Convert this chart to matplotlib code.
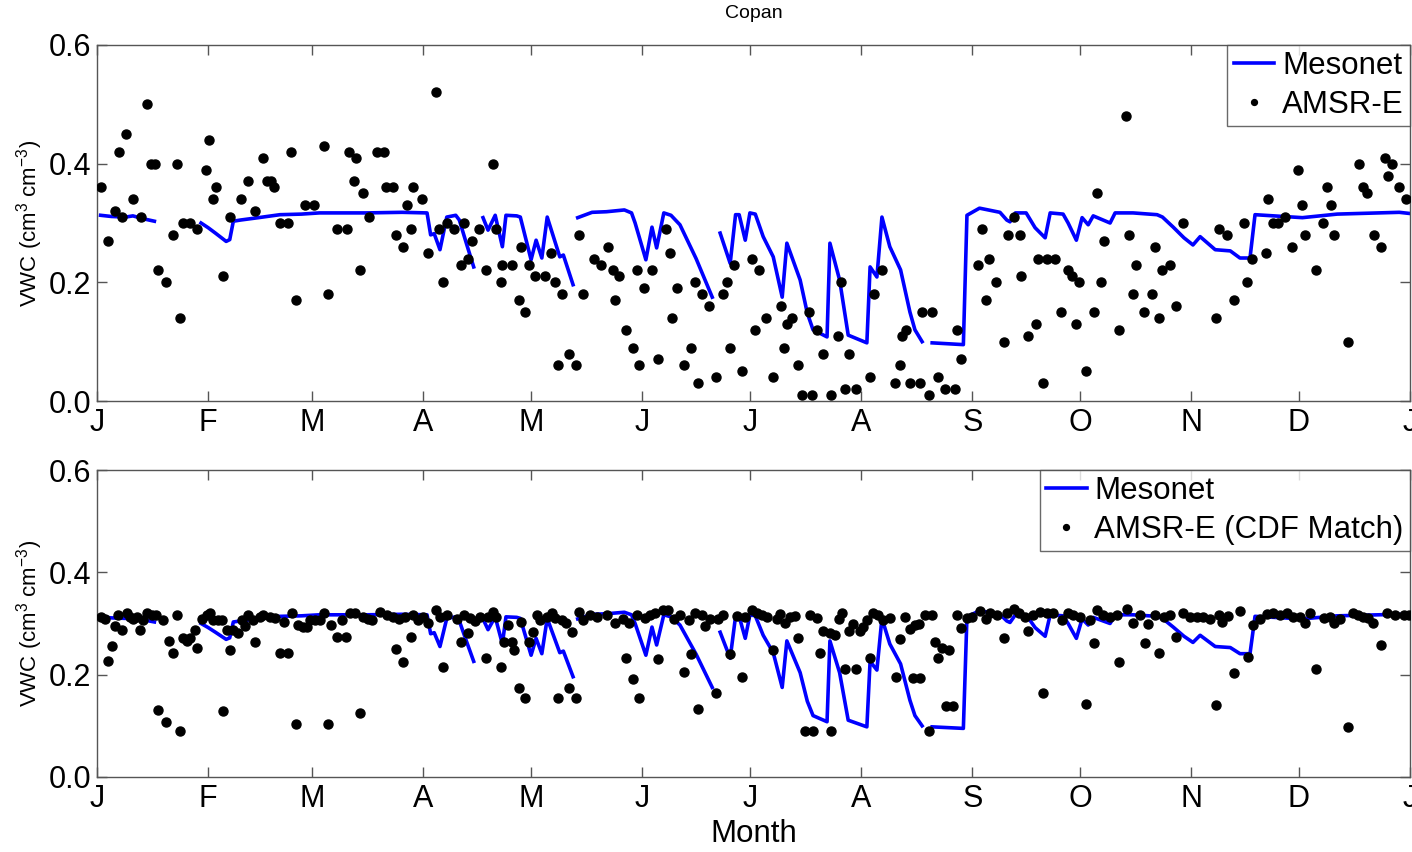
import numpy as np
import matplotlib
matplotlib.use("Agg")
import matplotlib.pyplot as plt

plt.rcParams["font.family"] = ["Liberation Sans", "DejaVu Sans"]
plt.rcParams["mathtext.default"] = "regular"

# Ось X: начало месяцев (високосный год)
month_starts = [0, 31, 60, 91, 121, 152, 182, 213, 244, 274, 305, 335, 366]
month_labels = ["J", "F", "M", "A", "M", "J", "J", "A", "S", "O", "N", "D", "J"]

# Mesonet: вершины линии (день, VWC), NaN = разрыв
mesonet_day = [
    1, 4, 8, 10, 13, 16, np.nan,
    29, 31, 33, 36, 37, 38, 40, 45, 51, 57, 62, 75, 85, 92, 93, 94, 95.6, 97.5, 100, 101, 103, 105, np.nan,
    107.6, 109, 111, 113, 114, 117, 118, 121, 122.4, 124, 125.5, 129, 130, 132.7, np.nan,
    134, 138, 142, 147, 149, 150, 153, 154.7, 156, 158, 160, 162.5, 167, 171.5, np.nan,
    173.7, 176.5, 178, 179, 180.7, 182, 183.5, 185.7, 188.5, 191, 192.3, 196, 198, 199.6, 203.5, 204.3,
    207, 209.4, 214.6, 215.5, 217.4, 218.8, 221, 224, 226.6, 228, 230, np.nan,
    232.8, 241.5, 242.5, 246, 251.7, 253.6, 254.5, 256, 259, 261.5, 264.3, 265.7, 269.3, 270.7, 273,
    274.6, 276.3, 277.7, 282.4, 283.8, 288.8, 295.5, 297, 300, 303, 305.5, 307.5, 311.7, 315.9, 318.6,
    321.4, 322.8, 336, 345.7, 363, 366,
]
mesonet_vwc = [
    0.313, 0.311, 0.310, 0.312, 0.307, 0.303, np.nan,
    0.300, 0.292, 0.283, 0.269, 0.272, 0.303, 0.305, 0.309, 0.314, 0.315, 0.317, 0.317, 0.318, 0.317,
    0.280, 0.282, 0.255, 0.310, 0.313, 0.305, 0.265, 0.226, np.nan,
    0.309, 0.288, 0.313, 0.260, 0.313, 0.312, 0.310, 0.238, 0.271, 0.241, 0.310, 0.243, 0.246, 0.196, np.nan,
    0.309, 0.318, 0.319, 0.322, 0.317, 0.300, 0.238, 0.293, 0.258, 0.317, 0.313, 0.297, 0.240, 0.175, np.nan,
    0.283, 0.232, 0.314, 0.314, 0.271, 0.317, 0.315, 0.277, 0.243, 0.175, 0.266, 0.204, 0.148, 0.120,
    0.108, 0.266, 0.204, 0.111, 0.098, 0.226, 0.209, 0.310, 0.260, 0.221, 0.150, 0.120, 0.100, np.nan,
    0.098, 0.095, 0.313, 0.325, 0.318, 0.305, 0.302, 0.317, 0.317, 0.292, 0.275, 0.317, 0.315, 0.300,
    0.271, 0.309, 0.297, 0.312, 0.300, 0.317, 0.317, 0.314, 0.310, 0.293, 0.275, 0.263, 0.277, 0.255,
    0.253, 0.241, 0.241, 0.314, 0.309, 0.315, 0.318, 0.316,
]

# AMSR-E (исходные значения)
amsr_day = [
    1.1, 3.2, 5.0, 6.2, 7.0, 8.1, 10.1, 12.2, 14.0, 15.0, 16.3, 17.1, 19.2, 21.1, 22.2, 23.2, 24.1, 25.9,
    28.0, 30.4, 31.2, 32.4, 33.2, 35.2, 37.1, 40.1, 42.2, 44.0, 46.4, 47.3, 48.5, 49.2, 51.0, 53.3, 54.1,
    55.4, 58.0, 60.5, 63.3, 64.3, 67.0, 69.6, 70.3, 71.5, 72.2, 73.3, 74.2, 75.9, 78.0, 80.0, 80.6, 82.4,
    83.4, 85.4, 86.3, 87.4, 88.2, 90.5, 92.4, 94.5, 95.3, 96.4, 97.5, 99.6, 101.5, 102.3, 103.4, 104.4,
    106.6, 108.4, 110.5, 111.2, 112.5, 113.0, 115.6, 117.5, 118.3, 119.3, 120.5, 122.0, 125.0, 126.5,
    127.6, 128.4, 129.5, 131.5, 133.5, 134.3, 135.4, 138.6, 140.4, 142.4, 143.7, 144.4, 145.5, 147.5,
    149.5, 150.4, 151.2, 152.6, 154.6, 156.5, 158.5, 159.6, 160.4, 161.6, 163.5, 165.5, 166.7, 167.5,
    168.6, 170.6, 172.5, 174.6, 175.7, 176.5, 177.6, 179.7, 182.7, 183.4, 184.6, 186.5, 188.5, 190.6,
    191.6, 192.3, 193.7, 195.5, 196.4, 198.6, 199.2, 200.6, 202.5, 204.5, 206.5, 207.5, 208.5, 209.6,
    211.6, 215.5, 216.6, 218.8, 222.5, 223.7, 224.4, 225.6, 226.6, 229.4, 230.0, 232.0, 232.8, 234.5,
    236.4, 239.2, 239.7, 240.8, 245.5, 246.6, 247.8, 248.7, 250.6, 252.7, 254.0, 255.5, 257.3, 257.7,
    259.6, 261.8, 262.3, 263.8, 264.8, 267.0, 268.7, 270.8, 271.7, 272.8, 273.8, 275.7, 277.8, 278.7,
    279.9, 280.7, 284.9, 286.9, 287.7, 288.9, 289.7, 291.9, 294.0, 294.8, 295.9, 296.8, 299.0, 300.8,
    302.8, 311.9, 312.8, 314.9, 317.0, 319.7, 320.7, 322.0, 325.8, 326.5, 327.7, 329.1, 331.2, 333.0,
    334.9, 335.8, 336.7, 339.8, 341.8, 342.8, 343.9, 344.9, 348.8, 351.8, 352.8, 353.9, 356.0, 357.9,
    359.0, 359.8, 360.9, 362.8, 364.8,
]
amsr_vwc = [
    0.36, 0.27, 0.32, 0.42, 0.31, 0.45, 0.34, 0.31, 0.50, 0.40, 0.40, 0.22, 0.20, 0.28, 0.40, 0.14, 0.30, 0.30,
    0.29, 0.39, 0.44, 0.34, 0.36, 0.21, 0.31, 0.34, 0.37, 0.32, 0.41, 0.37, 0.37, 0.36, 0.30, 0.30, 0.42,
    0.17, 0.33, 0.33, 0.43, 0.18, 0.29, 0.29, 0.42, 0.37, 0.41, 0.22, 0.35, 0.31, 0.42, 0.42, 0.36, 0.36,
    0.28, 0.26, 0.33, 0.29, 0.36, 0.34, 0.25, 0.52, 0.29, 0.20, 0.30, 0.29, 0.23, 0.30, 0.24, 0.27,
    0.29, 0.22, 0.40, 0.29, 0.20, 0.23, 0.23, 0.17, 0.26, 0.15, 0.23, 0.21, 0.21, 0.25,
    0.20, 0.06, 0.18, 0.08, 0.06, 0.28, 0.18, 0.24, 0.23, 0.26, 0.22, 0.17, 0.21, 0.12,
    0.09, 0.22, 0.06, 0.19, 0.22, 0.07, 0.29, 0.25, 0.14, 0.19, 0.06, 0.09, 0.20, 0.03,
    0.18, 0.16, 0.04, 0.18, 0.20, 0.09, 0.23, 0.05, 0.24, 0.12, 0.22, 0.14, 0.04, 0.16,
    0.09, 0.13, 0.14, 0.06, 0.01, 0.15, 0.01, 0.12, 0.08, 0.01, 0.11, 0.20, 0.02, 0.08,
    0.02, 0.04, 0.18, 0.22, 0.03, 0.06, 0.11, 0.12, 0.03, 0.03, 0.15, 0.01, 0.15, 0.04,
    0.02, 0.02, 0.12, 0.07, 0.23, 0.29, 0.17, 0.24, 0.20, 0.10, 0.28, 0.31, 0.28, 0.21,
    0.11, 0.13, 0.24, 0.03, 0.24, 0.24, 0.15, 0.22, 0.21, 0.13, 0.20, 0.05, 0.15, 0.35,
    0.20, 0.27, 0.12, 0.48, 0.28, 0.18, 0.23, 0.15, 0.18, 0.26, 0.14, 0.22, 0.23, 0.16,
    0.30, 0.14, 0.29, 0.28, 0.17, 0.30, 0.20, 0.24, 0.25, 0.34, 0.30, 0.30, 0.31, 0.26,
    0.39, 0.33, 0.28, 0.22, 0.30, 0.36, 0.33, 0.28, 0.10, 0.40, 0.36, 0.35, 0.28, 0.26,
    0.41, 0.38, 0.40, 0.36, 0.34,
]

# AMSR-E после CDF-согласования
cdf_day = [
    1.1, 2.2, 3.2, 4.1, 5.0, 5.9, 7.1, 8.3, 9.2, 10.1, 11.2, 12.0, 12.9, 14.0, 15.2, 16.4, 17.1, 18.3,
    19.2, 20.2, 21.1, 22.2, 23.2, 24.1, 25.2, 25.9, 27.3, 28.0, 29.2, 30.6, 31.5, 32.4, 33.8, 34.8, 35.2,
    36.2, 37.1, 38.0, 39.4, 40.3, 41.3, 42.2, 43.6, 44.0, 45.4, 46.4, 48.2, 49.6, 51.0, 52.2, 53.3, 54.3,
    55.4, 56.1, 57.5, 58.5, 59.4, 60.8, 62.2, 63.3, 64.3, 65.2, 67.0, 68.2, 69.4, 70.5, 71.9, 73.3, 74.2,
    75.6, 76.6, 78.9, 80.8, 82.6, 83.4, 84.3, 85.4, 85.9, 87.4, 88.2, 89.6, 91.0, 92.4, 94.5, 95.6, 96.4,
    97.7, 100.3, 101.5, 102.3, 103.3, 104.0, 105.4, 106.8, 108.4, 109.1, 110.5, 111.2, 112.5, 113.5,
    114.5, 115.6, 116.3, 117.5, 118.3, 119.3, 120.5, 121.5, 122.6, 123.5, 125.4, 126.8, 127.6, 128.4,
    129.5, 130.8, 131.5, 132.3, 133.5, 134.3, 135.6, 137.4, 139.3, 142.1, 144.4, 146.7, 147.5, 148.4,
    149.5, 150.5, 151.2, 152.8, 154.2, 155.6, 156.5, 157.9, 159.3, 160.7, 162.5, 163.5, 164.9, 165.5,
    166.7, 167.5, 168.6, 169.5, 170.9, 172.5, 173.2, 174.6, 176.5, 178.3, 179.7, 180.7, 182.5, 183.9,
    185.3, 186.7, 188.5, 189.5, 190.4, 191.8, 193.2, 194.6, 195.5, 197.4, 198.8, 199.5, 200.6, 201.4,
    202.5, 204.3, 204.5, 205.6, 206.7, 207.6, 208.5, 209.7, 210.7, 211.6, 212.7, 213.5, 214.7, 215.5,
    216.4, 217.8, 219.2, 221.1, 222.6, 223.7, 225.3, 226.5, 227.6, 228.0, 229.0, 229.4, 230.8, 231.8,
    232.7, 233.6, 234.5, 235.5, 236.7, 237.6, 238.6, 239.7, 240.8, 242.5, 243.9, 246.2, 247.8, 249.0,
    250.8, 252.7, 253.6, 255.5, 256.9, 258.7, 259.6, 261.0, 262.9, 263.8, 264.8, 266.6, 268.9, 270.8,
    272.2, 274.1, 275.7, 276.8, 277.8, 278.7, 280.5, 282.4, 284.3, 284.9, 287.1, 288.9, 290.8, 292.0,
    293.1, 295.0, 295.9, 297.3, 299.1, 300.8, 302.8, 304.7, 306.6, 308.4, 310.3, 311.9, 312.8, 313.5,
    315.4, 317.0, 318.6, 320.8, 322.1, 324.2, 326.1, 327.9, 329.8, 331.7, 333.5, 335.2, 336.8, 338.2,
    339.8, 341.9, 343.7, 344.9, 346.5, 348.8, 350.2, 351.6, 353.0, 354.4, 355.8, 357.9, 359.6, 361.9,
    364.2, 365.8,
]
cdf_vwc = [
    0.312, 0.308, 0.227, 0.256, 0.295, 0.316, 0.288, 0.320, 0.312, 0.308, 0.312, 0.288, 0.307, 0.321, 0.316, 0.316, 0.131, 0.307,
    0.107, 0.266, 0.242, 0.316, 0.090, 0.271, 0.266, 0.271, 0.288, 0.253, 0.308, 0.316, 0.320, 0.307, 0.307, 0.307, 0.129,
    0.288, 0.249, 0.287, 0.281, 0.307, 0.295, 0.316, 0.307, 0.263, 0.312, 0.316, 0.312, 0.310, 0.242, 0.303, 0.242, 0.320,
    0.104, 0.297, 0.293, 0.293, 0.307, 0.307, 0.307, 0.321, 0.104, 0.297, 0.273, 0.307, 0.273, 0.320, 0.320, 0.126, 0.312,
    0.308, 0.307, 0.323, 0.316, 0.312, 0.251, 0.308, 0.224, 0.312, 0.273, 0.316, 0.307, 0.312, 0.301, 0.326, 0.312, 0.215,
    0.316, 0.308, 0.263, 0.316, 0.282, 0.310, 0.305, 0.313, 0.232, 0.312, 0.323, 0.313, 0.215, 0.263,
    0.298, 0.263, 0.248, 0.174, 0.303, 0.154, 0.263, 0.283, 0.316, 0.307, 0.313, 0.320, 0.310, 0.154,
    0.307, 0.301, 0.174, 0.283, 0.154, 0.323, 0.307, 0.316, 0.313, 0.316, 0.301, 0.308, 0.232, 0.301,
    0.191, 0.316, 0.154, 0.310, 0.316, 0.320, 0.230, 0.326, 0.326, 0.308, 0.316, 0.206, 0.307, 0.240,
    0.320, 0.133, 0.316, 0.295, 0.308, 0.165, 0.308, 0.316, 0.240, 0.315, 0.196, 0.312, 0.326, 0.320,
    0.316, 0.312, 0.248, 0.308, 0.318, 0.301, 0.312, 0.315, 0.271, 0.090, 0.316, 0.090, 0.310, 0.243,
    0.285, 0.281, 0.090, 0.277, 0.308, 0.321, 0.212, 0.285, 0.300, 0.212, 0.285, 0.293, 0.307, 0.232,
    0.321, 0.316, 0.307, 0.310, 0.196, 0.270, 0.312, 0.289, 0.194, 0.298, 0.300, 0.194, 0.316, 0.090,
    0.316, 0.263, 0.232, 0.253, 0.139, 0.249, 0.139, 0.316, 0.292, 0.310, 0.312, 0.325, 0.308, 0.320,
    0.316, 0.271, 0.320, 0.328, 0.321, 0.313, 0.285, 0.316, 0.323, 0.165, 0.320, 0.321, 0.307, 0.320,
    0.316, 0.312, 0.143, 0.307, 0.261, 0.326, 0.316, 0.313, 0.316, 0.224, 0.328, 0.301, 0.316, 0.261,
    0.300, 0.316, 0.242, 0.313, 0.316, 0.273, 0.321, 0.312, 0.313, 0.312, 0.308, 0.141, 0.316, 0.303,
    0.315, 0.204, 0.325, 0.235, 0.298, 0.308, 0.318, 0.320, 0.316, 0.321, 0.313, 0.313, 0.301, 0.321,
    0.212, 0.310, 0.312, 0.301, 0.308, 0.098, 0.321, 0.316, 0.312, 0.310, 0.301, 0.258, 0.321, 0.316,
    0.316, 0.316,
]

W, H = 1412, 852
fig = plt.figure(figsize=(W / 100, H / 100), dpi=100)

# позиции осей в пикселях: (лево, верх, право, низ)
boxes = [(97, 45, 1410, 401), (97, 470, 1410, 777)]
dots_labels = ["AMSR-E", "AMSR-E (CDF Match)"]
dots_data = [(amsr_day, amsr_vwc), (cdf_day, cdf_vwc)]

axes = []
for (l, t, r, b), lab, (dd, vv) in zip(boxes, dots_labels, dots_data):
    ax = fig.add_axes([l / W, 1 - b / H, (r - l) / W, (b - t) / H])
    ax.plot(mesonet_day, mesonet_vwc, color="#0000ff", lw=2.6, label="Mesonet", zorder=2)
    ax.plot(dd, vv, "o", color="black", ms=6.5, ls="none", label=lab, zorder=3)
    ax.set_xlim(0, 366)
    ax.set_ylim(0, 0.6)
    ax.set_xticks(month_starts)
    ax.set_xticklabels(month_labels)
    ax.set_yticks([0, 0.2, 0.4, 0.6])
    ax.set_yticklabels(["0.0", "0.2", "0.4", "0.6"])
    ax.tick_params(direction="in", top=True, right=True, length=7, width=1,
                   color="#555555", labelsize=22)
    ax.tick_params(axis="x", pad=5)
    ax.tick_params(axis="y", pad=4)
    for s in ax.spines.values():
        s.set_color("#555555")
        s.set_linewidth(1)
    ax.set_ylabel("VWC (cm$^3$ cm$^{-3}$)", fontsize=16, labelpad=3)
    leg = ax.legend(loc="upper right", borderaxespad=0, fancybox=False,
                    fontsize=22.5, handlelength=1.3, handletextpad=0.25,
                    borderpad=0.2, labelspacing=0.28, markerscale=0.65)
    leg.get_frame().set_edgecolor("#444444")
    leg.get_frame().set_linewidth(1)
    axes.append(ax)

axes[1].set_xlabel("Month", fontsize=22.5, labelpad=4)
fig.text(97 / W + (1313 / W) / 2, 1 - 14 / H, "Copan", ha="center", va="center", fontsize=14)

fig.savefig("out.png", dpi=100)
